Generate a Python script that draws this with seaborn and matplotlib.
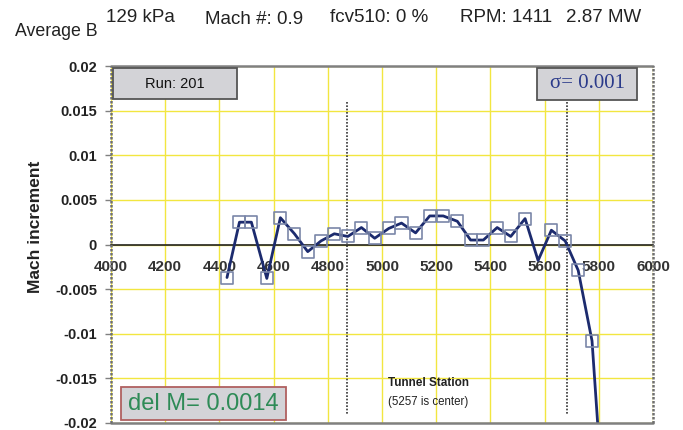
import matplotlib
matplotlib.use("Agg")
import matplotlib.pyplot as plt
import seaborn as sns
import pandas as pd
from matplotlib.patches import Rectangle

# ---- data ----
station = [4428, 4474, 4518, 4575, 4625, 4677, 4726, 4775, 4824, 4874, 4924, 4973,
           5025, 5072, 5124, 5176, 5226, 5278, 5327, 5374, 5425, 5475, 5528, 5576,
           5625, 5676, 5724, 5775, 5825]
mach_inc = [-0.0037, 0.0025, 0.0025, -0.0038, 0.0030, 0.0012, -0.0008, 0.0004, 0.0012,
            0.0009, 0.0019, 0.0007, 0.0018, 0.0024, 0.0013, 0.0032, 0.0032, 0.0026,
            0.0005, 0.0005, 0.0019, 0.0009, 0.0029, -0.0018, 0.0016, 0.0004, -0.0029,
            -0.0108, -0.0330]
has_marker = [True] * 23 + [False] + [True] * 4 + [False]
x_ticks = [4000, 4200, 4400, 4600, 4800, 5000, 5200, 5400, 5600, 5800, 6000]
y_ticks = [0.02, 0.015, 0.01, 0.005, 0, -0.005, -0.01, -0.015, -0.02]
y_tick_labels = ["0.02", "0.015", "0.01", "0.005", "0", "-0.005", "-0.01", "-0.015", "-0.02"]
marker_lines = [4872, 5682]
header = [("Average B", 15, 31, 12.8), ("129 kPa", 106, 17, 13.5), ("Mach #: 0.9", 205, 20, 13.5),
          ("fcv510: 0 %", 330, 18, 13.5), ("RPM: 1411", 460, 18, 13.5), ("2.87 MW", 566, 18, 13.5)]

df = pd.DataFrame({"station": station, "mach": mach_inc})
mk = df[pd.Series(has_marker)]

sns.set_theme(style="white")
plt.rcParams['font.family'] = ['Liberation Sans', 'DejaVu Sans']
plt.rcParams['hatch.color'] = '#bcbcc2'
plt.rcParams['hatch.linewidth'] = 0.5

W, H = 683, 430
fig = plt.figure(figsize=(W / 100, H / 100), dpi=100)
L, R, T, B = 111, 653, 66, 423
ax = fig.add_axes([L / W, 1 - B / H, (R - L) / W, (B - T) / H])

ax.set_xlim(4000, 6000)
ax.set_ylim(-0.02, 0.02)


def px2ax(x0, y0, x1, y1):
    """pixel box -> axes fraction (x, y, w, h)"""
    return ((x0 - L) / (R - L), (B - y1) / (B - T), (x1 - x0) / (R - L), (y1 - y0) / (B - T))


# grid
for xv in x_ticks:
    ax.axvline(xv, color="#f2e640", lw=1.0, zorder=0)
for yv in y_ticks:
    ax.axhline(yv, color="#f2e640", lw=1.0, zorder=0)

# dotted station markers
for xv in marker_lines:
    ax.plot([xv, xv], [0.0160, -0.0190], color="#333333", lw=1.2, ls=(0, (1, 1)), zorder=1)

sns.lineplot(data=df, x="station", y="mach", ax=ax, color="#1c2b6e", lw=2.0,
             sort=False, zorder=3)
sns.scatterplot(data=mk, x="station", y="mach", ax=ax, marker="s", s=75,
                facecolor="none", edgecolor="#7a86a8", linewidth=1.2, zorder=4)

ax.set_xlabel("")
ax.set_ylabel("Mach increment", fontsize=12.5, fontweight="bold", color="#222222")
ax.yaxis.set_label_coords(-0.125, 0.55)

# spines / frame
for s in ["top", "right", "left"]:
    ax.spines[s].set_visible(False)
ax.spines["bottom"].set_position(("data", 0))
ax.spines["bottom"].set_color("#222222")
ax.spines["bottom"].set_linewidth(1.2)
ax.plot([0, 1], [1, 1], transform=ax.transAxes, color="#808080", lw=1.8, clip_on=False, zorder=5)
ax.plot([0, 1], [0, 0], transform=ax.transAxes, color="#808080", lw=1.8, clip_on=False, zorder=5)
ax.plot([0, 0], [0, 1], transform=ax.transAxes, color="#707070", lw=1.8, ls=(0, (1, 0.6)),
        clip_on=False, zorder=5)
ax.plot([1, 1], [0, 1], transform=ax.transAxes, color="#707070", lw=1.8, ls=(0, (1, 0.6)),
        clip_on=False, zorder=5)

ax.set_xticks(x_ticks)
ax.set_xticklabels([str(v) for v in x_ticks], fontsize=11, fontweight="bold", color="#333333")
ax.tick_params(axis="x", direction="inout", length=8, width=1.2, color="#222222", pad=7)
ax.set_yticks(y_ticks)
ax.set_yticklabels(y_tick_labels, fontsize=10.5, fontweight="bold", color="#222222")
ax.tick_params(axis="y", direction="out", length=4, width=1, color="#808080", left=True, pad=6)

# text boxes
boxes = [
    ((113, 68, 237, 99), "#555555", "Run: 201", dict(fontsize=10.5, color="#111111")),
    ((537, 68, 637, 100), "#555555", "σ= 0.001", dict(fontsize=15, color="#2a3a8a",
                                                      family="Liberation Serif")),
    ((121, 387, 286, 420), "#b06060", "del M= 0.0014", dict(fontsize=17, color="#2e8b57")),
]
for (x0, y0, x1, y1), ec, txt, kw in boxes:
    bx, by, bw, bh = px2ax(x0, y0, x1, y1)
    ax.add_patch(Rectangle((bx, by), bw, bh, transform=ax.transAxes, facecolor="#d3d3d7",
                           edgecolor=ec, lw=1.3, zorder=6, clip_on=False))
    ax.add_patch(Rectangle((bx, by), bw, bh, transform=ax.transAxes, facecolor="none",
                           edgecolor="none", lw=0, hatch="----", zorder=6, clip_on=False))
    ax.text(bx + bw / 2, by + bh / 2, txt, transform=ax.transAxes, ha="center",
            va="center", zorder=7, **kw)

ax.text(5170, -0.0155, "Tunnel Station", ha="center", va="center", fontsize=8.5,
        fontweight="bold", color="#222222")
ax.text(5170, -0.0176, "(5257 is center)", ha="center", va="center", fontsize=8.3,
        color="#222222")

for txt, x, y, fs in header:
    fig.text(x / W, 1 - y / H, txt, ha="left", va="center", fontsize=fs, color="#222222")

fig.savefig("out.png", dpi=100)
